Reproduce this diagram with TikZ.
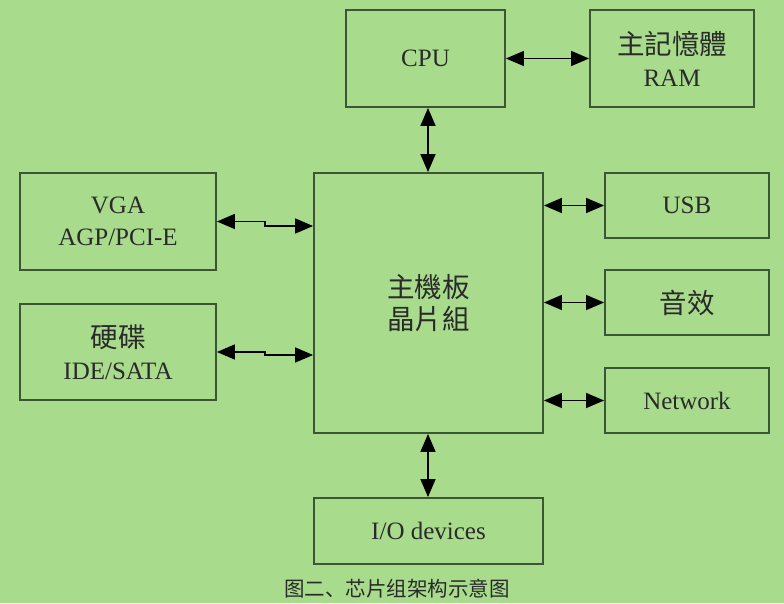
\documentclass[tikz,border=0pt]{standalone}
\usepackage{fontspec}
\setmainfont{Liberation Serif}
\newfontfamily\cjk[Scale=1.1]{Noto Sans CJK TC}
\newfontfamily\cjksc{Noto Sans CJK SC}
\usetikzlibrary{arrows.meta}
\definecolor{bg}{HTML}{A8DC8C}
\definecolor{edge}{HTML}{3A5636}
\definecolor{txt}{HTML}{2A2A2A}
\begin{document}
\begin{tikzpicture}[x=1pt,y=-1pt,
  blk/.style={draw=edge,line width=1.8pt,inner sep=0pt,text=txt,font=\fontsize{25}{32}\selectfont,align=center},
  dbl/.style={line width=1.4pt,draw=black,{Triangle[length=18pt,width=15pt]}-{Triangle[length=18pt,width=15pt]}}
]
\fill[bg] (0,0) rectangle (784,603);
\useasboundingbox (0,0) rectangle (784,603);
\node[blk,minimum width=159pt,minimum height=97pt] (cpu) at (425.5,58.5) {CPU};
\node[blk,minimum width=164pt,minimum height=97pt] (ram) at (672,58.5) {{\cjk 主記憶體}\\RAM};
\node[blk,minimum width=229pt,minimum height=260pt] (chip) at (428.5,303) {\cjk 主機板\\\cjk 晶片組};
\node[blk,minimum width=196pt,minimum height=97pt] (vga) at (118,221.5) {VGA\\AGP/PCI-E};
\node[blk,minimum width=196pt,minimum height=96pt] (hdd) at (118,352) {{\cjk 硬碟}\\IDE/SATA};
\node[blk,minimum width=164pt,minimum height=65pt] (usb) at (687,205.5) {USB};
\node[blk,minimum width=164pt,minimum height=65pt] (snd) at (687,302.5) {\cjk 音效};
\node[blk,minimum width=164pt,minimum height=65pt] (net) at (687,400.5) {Network};
\node[blk,minimum width=229pt,minimum height=66pt] (io) at (428.5,531) {I/O devices};
\node[text=txt,font=\cjksc\fontsize{20.5}{24}\selectfont] (cap) at (397,589) {图二、芯片组架构示意图};
\draw[dbl] (cpu.east) -- (ram.west);
\draw[dbl] (cpu.south -| 428,0) -- (chip.north -| 428,0);
\draw[dbl] (chip.south -| 428,0) -- (io.north -| 428,0);
\draw[dbl] (vga.east) -- (265,221.5) -- (265,226) -- (chip.west |- 0,226);
\draw[dbl] (hdd.east) -- (265,352) -- (265,355) -- (chip.west |- 0,355);
\draw[dbl] (chip.east |- usb.west) -- (usb.west);
\draw[dbl] (chip.east |- snd.west) -- (snd.west);
\draw[dbl] (chip.east |- net.west) -- (net.west);
\end{tikzpicture}
\end{document}
